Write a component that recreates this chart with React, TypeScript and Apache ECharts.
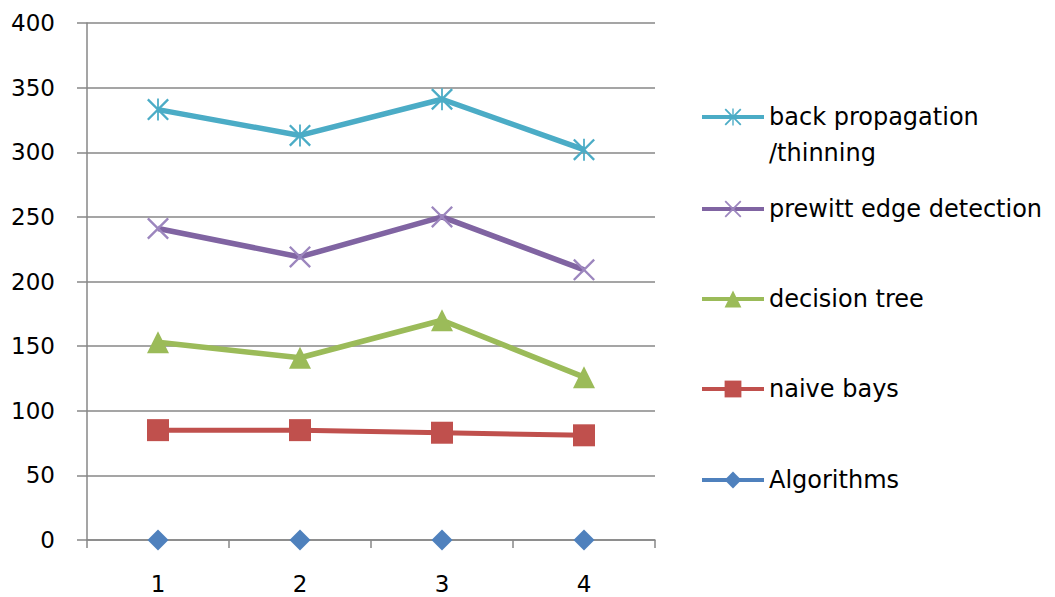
import React, { useEffect, useRef } from "react";
import * as echarts from "echarts";

const categories = ["1", "2", "3", "4"];
const algorithms = [0, 0, 0, 0];
const naiveBays = [85, 85, 83, 81];
const decisionTree = [153, 141, 170, 126];
const prewitt = [241, 219, 250, 209];
const backProp = [333, 313, 341, 302];
const yTicks = { min: 0, max: 400, interval: 50 };

const X_PATH = "path://M0,1.5L1.5,0L20,18.5L18.5,20ZM18.5,0L20,1.5L1.5,20L0,18.5Z";
const STAR_PATH =
  "path://M0,1.5L1.5,0L20,18.5L18.5,20ZM18.5,0L20,1.5L1.5,20L0,18.5ZM9.2,0L10.8,0L10.8,20L9.2,20Z";

const FONT = "DejaVu Sans";
const FS = 23;
const LFS = 24;
const GRID = "#878787";

export default function App() {
  const ref = useRef<HTMLDivElement>(null);
  useEffect(() => {
    document.body.style.margin = "0";
    const chart = echarts.init(ref.current!, null, { renderer: "svg" });
    const legendBase = (name: string, top: number, extra: any = {}) => ({
      data: [name],
      left: 700,
      top,
      padding: 0,
      itemWidth: 62,
      itemHeight: 21,
      selectedMode: false,
      lineStyle: { width: 4, ...(extra.lineStyle || {}) },
      textStyle: { fontFamily: FONT, fontSize: LFS, color: "#000", lineHeight: 21, ...(extra.textStyle || {}) },
      ...(extra.rest || {}),
    });
    chart.setOption({
      animation: false,
      grid: { left: 87, right: 400, top: 23, bottom: 57 },
      legend: [
        legendBase("back propagation\n/thinning", 117 - 54, {
          textStyle: { lineHeight: 36 },
          rest: { formatter: () => " \nback propagation\n/thinning" },
        }),
        legendBase("prewitt edge detection", 207 - 10),
        legendBase("decision tree", 297 - 10),
        legendBase("naive bays", 387 - 10),
        legendBase("Algorithms", 478 - 10, { lineStyle: { opacity: 1 } }),
      ],
      xAxis: {
        type: "category",
        data: categories,
        boundaryGap: true,
        axisLine: { lineStyle: { color: GRID, width: 1.5 } },
        axisTick: { show: true, length: 8, lineStyle: { color: GRID, width: 1.5 } },
        axisLabel: { fontFamily: FONT, fontSize: FS, color: "#000", margin: 32 },
      },
      yAxis: {
        type: "value",
        min: yTicks.min,
        max: yTicks.max,
        interval: yTicks.interval,
        axisLine: { show: true, lineStyle: { color: GRID, width: 1.5 } },
        axisTick: { show: true, length: 10, lineStyle: { color: GRID, width: 1.5 } },
        splitLine: { lineStyle: { color: GRID, width: 1.5 } },
        axisLabel: { fontFamily: FONT, fontSize: FS, color: "#000", margin: 32 },
      },
      series: [
        {
          name: "Algorithms",
          type: "line",
          data: algorithms,
          symbol: "diamond",
          symbolSize: 21,
          color: "#4F81BD",
          lineStyle: { width: 4, opacity: 0 },
          itemStyle: { color: "#4F81BD" },
        },
        {
          name: "naive bays",
          type: "line",
          data: naiveBays,
          symbol: "rect",
          symbolSize: 22,
          color: "#C0504D",
          lineStyle: { width: 5, color: "#C0504D" },
          itemStyle: { color: "#C0504D" },
        },
        {
          name: "decision tree",
          type: "line",
          data: decisionTree,
          symbol: "triangle",
          symbolSize: 22,
          color: "#9BBB59",
          lineStyle: { width: 5.5, color: "#9BBB59" },
          itemStyle: { color: "#9BBB59" },
        },
        {
          name: "prewitt edge detection",
          type: "line",
          data: prewitt,
          symbol: X_PATH,
          symbolSize: 22,
          color: "#8064A2",
          lineStyle: { width: 5.5, color: "#8064A2" },
          itemStyle: { color: "#9C86BE" },
        },
        {
          name: "back propagation\n/thinning",
          type: "line",
          data: backProp,
          symbol: STAR_PATH,
          symbolSize: 22,
          color: "#4BACC6",
          lineStyle: { width: 5.5, color: "#4BACC6" },
          itemStyle: { color: "#4BACC6" },
        },
      ],
    });
    return () => chart.dispose();
  }, []);
  return <div ref={ref} style={{ width: 1055, height: 597 }} />;
}
